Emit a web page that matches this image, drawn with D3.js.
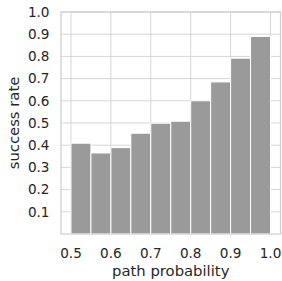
<!DOCTYPE html>
<html>
<head>
<meta charset="utf-8">
<script src="https://cdn.jsdelivr.net/npm/d3@7"></script>
<style>
  body { margin: 0; background: #fff; }
  text { font-family: "DejaVu Sans", sans-serif; fill: #262626; }
</style>
</head>
<body>
<div id="chart"></div>
<script>
// histogram bins (left edges) and success rates
const binStarts = [0.5, 0.55, 0.6, 0.65, 0.7, 0.75, 0.8, 0.85, 0.9, 0.95];
const binWidth = 0.05;
const successRates = [0.409, 0.365, 0.389, 0.454, 0.499, 0.508, 0.600, 0.685, 0.792, 0.890];
const xTicks = [0.5, 0.6, 0.7, 0.8, 0.9, 1.0];
const yTicks = [0.1, 0.2, 0.3, 0.4, 0.5, 0.6, 0.7, 0.8, 0.9, 1.0];

const W = 282, H = 281;
const margin = { top: 12, right: 1.5, bottom: 47, left: 61 };

const svg = d3.select('#chart')
  .append('svg')
  .attr('width', W)
  .attr('height', H);

const x = d3.scaleLinear()
  .domain([0.475, 1.025])
  .range([margin.left, W - margin.right]);

const y = d3.scaleLinear()
  .domain([0, 1])
  .range([H - margin.bottom, margin.top]);

const gridColor = '#d6d6d6';

// grid
svg.append('g')
  .selectAll('line.vg')
  .data(xTicks)
  .join('line')
  .attr('x1', d => x(d)).attr('x2', d => x(d))
  .attr('y1', y(0)).attr('y2', y(1))
  .attr('stroke', gridColor)
  .attr('stroke-width', 1);

svg.append('g')
  .selectAll('line.hg')
  .data(yTicks)
  .join('line')
  .attr('x1', x.range()[0]).attr('x2', x.range()[1])
  .attr('y1', d => y(d)).attr('y2', d => y(d))
  .attr('stroke', gridColor)
  .attr('stroke-width', 1);

// bars
svg.append('g')
  .selectAll('rect')
  .data(binStarts)
  .join('rect')
  .attr('x', d => x(d))
  .attr('width', d => x(d + binWidth) - x(d))
  .attr('y', (d, i) => y(successRates[i]))
  .attr('height', (d, i) => y(0) - y(successRates[i]))
  .attr('fill', '#9a9a9a')
  .attr('stroke', '#fff')
  .attr('stroke-width', 1);

// frame
svg.append('rect')
  .attr('x', x.range()[0])
  .attr('y', y(1))
  .attr('width', x.range()[1] - x.range()[0])
  .attr('height', y(0) - y(1))
  .attr('fill', 'none')
  .attr('stroke', '#cfcfcf')
  .attr('stroke-width', 1.25);

// tick labels
const fmt = d3.format('.1f');
svg.append('g')
  .selectAll('text')
  .data(xTicks)
  .join('text')
  .attr('x', d => x(d))
  .attr('y', 258)
  .attr('text-anchor', 'middle')
  .style('font-size', '13.6px')
  .text(fmt);

svg.append('g')
  .selectAll('text')
  .data(yTicks)
  .join('text')
  .attr('x', 49.5)
  .attr('y', d => y(d))
  .attr('dy', '0.36em')
  .attr('text-anchor', 'end')
  .style('font-size', '13.6px')
  .text(fmt);

// axis labels
svg.append('text')
  .attr('x', (x.range()[0] + x.range()[1]) / 2)
  .attr('y', 276)
  .attr('text-anchor', 'middle')
  .style('font-size', '14.8px')
  .text('path probability');

svg.append('text')
  .attr('transform', `translate(18.5, ${(y(0) + y(1)) / 2}) rotate(-90)`)
  .attr('text-anchor', 'middle')
  .style('font-size', '14.8px')
  .text('success rate');
</script>
</body>
</html>
